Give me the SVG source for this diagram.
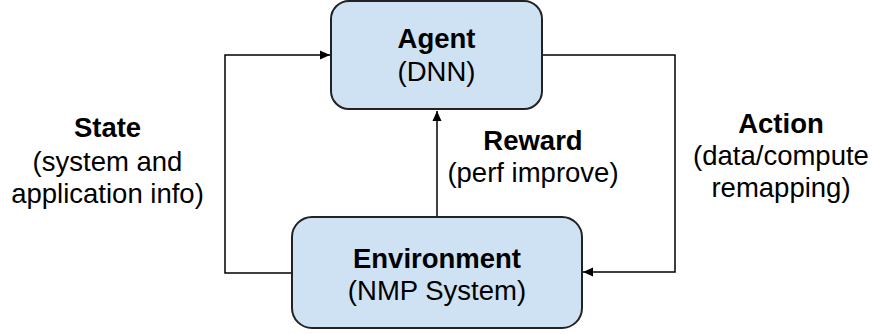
<svg xmlns="http://www.w3.org/2000/svg" width="873" height="334" viewBox="0 0 873 334">
<defs>
<style>
.box{fill:#cfe2f3;stroke:#222;stroke-width:2}
.t{font-family:"Liberation Sans",Arial,sans-serif;font-size:27.5px;fill:#000;text-anchor:middle}
.b{font-weight:bold}
.c{fill:none;stroke:#000;stroke-width:1.5}
</style>
<marker id="ah" markerUnits="userSpaceOnUse" markerWidth="12" markerHeight="10" refX="10" refY="5" orient="auto">
<path d="M0,0.5 L10,5 L0,9.5 Z" fill="#000"/>
</marker>
</defs>
<rect width="873" height="334" fill="#fff"/>
<g id="connectors">
<path class="c" d="M292,273 H225 V55 H330" marker-end="url(#ah)"/>
<path class="c" d="M542,55 H675 V272 H583" marker-end="url(#ah)"/>
<path class="c" d="M437,217 V111" marker-end="url(#ah)"/>
</g>
<g id="agent">
<rect class="box" x="331" y="1" width="211" height="108" rx="18"/>
<text class="t b" x="436.5" y="48">Agent</text>
<text class="t" x="436.5" y="81">(DNN)</text>
</g>
<g id="environment">
<rect class="box" x="292" y="217" width="290" height="111" rx="20"/>
<text class="t b" x="437" y="268">Environment</text>
<text class="t" x="437" y="300">(NMP System)</text>
</g>
<g id="state-label">
<text class="t b" x="107.5" y="137">State</text>
<text class="t" x="107.5" y="171">(system and</text>
<text class="t" x="107.5" y="203">application info)</text>
</g>
<g id="reward-label">
<text class="t b" x="533" y="150">Reward</text>
<text class="t" x="533" y="182">(perf improve)</text>
</g>
<g id="action-label">
<text class="t b" x="781" y="133">Action</text>
<text class="t" x="781" y="165">(data/compute</text>
<text class="t" x="781" y="197">remapping)</text>
</g>
</svg>
